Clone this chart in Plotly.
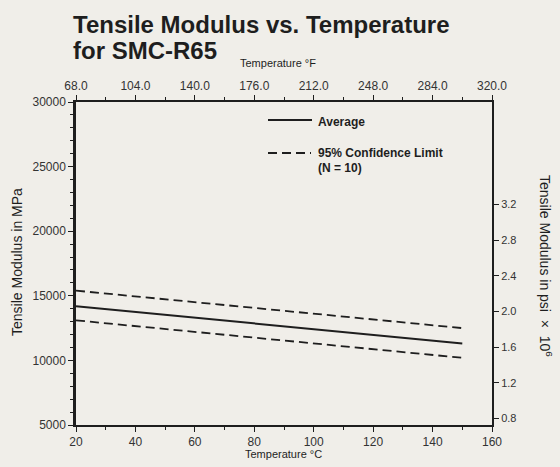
import plotly.graph_objects as go

# ---- data ----
temp_c = [20, 150]
average_mpa = [14200, 11300]
upper_95_mpa = [15400, 12500]
lower_95_mpa = [13100, 10200]

c_tick_vals = [20, 40, 60, 80, 100, 120, 140, 160]
f_tick_labels = ["68.0", "104.0", "140.0", "176.0", "212.0", "248.0", "284.0", "320.0"]
c_minor_vals = [30, 50, 70, 90, 110, 130, 150]
psi_tick_vals = [0.8, 1.2, 1.6, 2.0, 2.4, 2.8, 3.2]
psi_tick_labels = ["0.8", "1.2", "1.6", "2.0", "2.4", "2.8", "3.2"]

MPA_PER_MPSI = 6894.757
y_range = [5000, 30000]
x_range = [20, 160]

# ---- layout geometry (pixels) ----
W, H = 560, 467
L, R, T, B = 76, 492, 102, 425
def px(x):
    return (x - L) / (R - L)
def py(y):
    return (B - y) / (B - T)

FONT = "Liberation Sans, Arial, Helvetica, sans-serif"
INK = "#1e1e1e"
BG = "#f0eee9"

fig = go.Figure()
fig.add_trace(go.Scatter(x=temp_c, y=upper_95_mpa, mode="lines",
                         line=dict(color=INK, width=1.8, dash="9px,5px"),
                         showlegend=False, hoverinfo="skip"))
fig.add_trace(go.Scatter(x=temp_c, y=average_mpa, mode="lines",
                         line=dict(color=INK, width=2),
                         showlegend=False, hoverinfo="skip"))
fig.add_trace(go.Scatter(x=temp_c, y=lower_95_mpa, mode="lines",
                         line=dict(color=INK, width=1.8, dash="9px,5px"),
                         showlegend=False, hoverinfo="skip"))
# empty trace to anchor the secondary (top / right) axes
fig.add_trace(go.Scatter(x=[None], y=[None], xaxis="x2", yaxis="y2",
                         mode="lines", showlegend=False, hoverinfo="skip"))

tickfont = dict(family=FONT, size=12, color="#333")
fig.update_layout(
    width=W, height=H,
    margin=dict(l=L, r=W - R, t=T, b=H - B, autoexpand=False),
    paper_bgcolor=BG, plot_bgcolor=BG,
    font=dict(family=FONT, color=INK),
    showlegend=False,
    xaxis=dict(range=x_range, tickmode="array", tickvals=c_tick_vals,
               ticks="outside", ticklen=5, tickwidth=1, tickcolor=INK,
               minor=dict(tickmode="array", tickvals=c_minor_vals, ticks="outside",
                          ticklen=3, tickcolor=INK),
               showline=True, linecolor=INK, linewidth=2, showgrid=False,
               zeroline=False, tickfont=tickfont),
    xaxis2=dict(range=x_range, overlaying="x", side="top", anchor="y",
                tickmode="array", tickvals=c_tick_vals, ticktext=f_tick_labels,
                ticks="outside", ticklen=5, tickwidth=1, tickcolor=INK,
                minor=dict(tickmode="array", tickvals=c_minor_vals, ticks="outside",
                           ticklen=3, tickcolor=INK),
                showline=True, linecolor=INK, linewidth=2, showgrid=False,
                zeroline=False, tickfont=tickfont),
    yaxis=dict(range=y_range, dtick=5000, tick0=5000, tickformat="d",
               ticks="outside", ticklen=5, tickwidth=1, tickcolor=INK,
               minor=dict(dtick=1000, ticks="outside", ticklen=3, tickcolor=INK),
               showline=True, linecolor=INK, linewidth=2.5, showgrid=False,
               zeroline=False, tickfont=tickfont),
    yaxis2=dict(range=[y_range[0] / MPA_PER_MPSI, y_range[1] / MPA_PER_MPSI],
                overlaying="y", side="right", anchor="x",
                tickmode="array", tickvals=psi_tick_vals, ticktext=psi_tick_labels,
                ticks="outside", ticklen=5, tickwidth=1, tickcolor=INK,
                showline=True, linecolor=INK, linewidth=2, showgrid=False,
                zeroline=False, tickfont=dict(family=FONT, size=11, color="#333")),
)

ann = []
# title (two lines)
ann.append(dict(text="<b>Tensile Modulus vs. Temperature</b>", x=px(71), y=py(25),
                xanchor="left", yanchor="middle", showarrow=False,
                font=dict(family=FONT, size=24, color=INK)))
ann.append(dict(text="<b>for SMC-R65</b>", x=px(71), y=py(51),
                xanchor="left", yanchor="middle", showarrow=False,
                font=dict(family=FONT, size=24, color=INK)))
# axis titles
ann.append(dict(text="Temperature °F", x=px(278), y=py(63), xanchor="center",
                yanchor="middle", showarrow=False, font=dict(family=FONT, size=11, color=INK)))
ann.append(dict(text="Temperature °C", x=px(283), y=py(454), xanchor="center",
                yanchor="middle", showarrow=False, font=dict(family=FONT, size=11, color=INK)))
ann.append(dict(text="Tensile Modulus in MPa", x=px(17), y=py(262), xanchor="center",
                yanchor="middle", textangle=-90, showarrow=False,
                font=dict(family=FONT, size=14, color=INK)))
ann.append(dict(text="Tensile Modulus in psi  ×  10<sup>6</sup>", x=px(546), y=py(266),
                xanchor="center", yanchor="middle", textangle=90, showarrow=False,
                font=dict(family=FONT, size=14, color=INK)))
# legend text
ann.append(dict(text="<b>Average</b>", x=px(316), y=py(122), xanchor="left",
                yanchor="middle", showarrow=False, font=dict(family=FONT, size=12, color=INK)))
ann.append(dict(text="<b>95% Confidence Limit</b>", x=px(316), y=py(153), xanchor="left",
                yanchor="middle", showarrow=False, font=dict(family=FONT, size=12, color=INK)))
ann.append(dict(text="<b>(N = 10)</b>", x=px(316), y=py(168), xanchor="left",
                yanchor="middle", showarrow=False, font=dict(family=FONT, size=12, color=INK)))
for a in ann:
    a["xref"] = "paper"
    a["yref"] = "paper"
fig.update_layout(annotations=ann)

# legend sample lines
fig.add_shape(type="line", xref="paper", yref="paper", x0=px(268), x1=px(312),
              y0=py(120), y1=py(120), line=dict(color=INK, width=2))
fig.add_shape(type="line", xref="paper", yref="paper", x0=px(268), x1=px(311),
              y0=py(153), y1=py(153), line=dict(color=INK, width=1.8, dash="9px,5px"))

fig.write_html("out.html", config={"displayModeBar": False},
               post_script="document.body.style.margin='0';document.body.style.padding='0';")
